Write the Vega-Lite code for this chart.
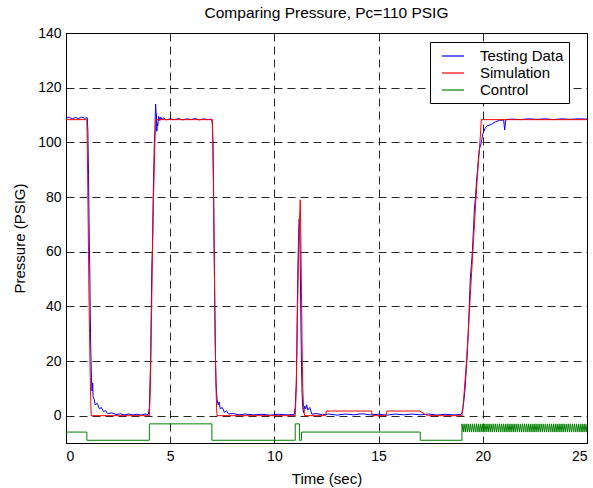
{
  "$schema": "https://vega.github.io/schema/vega-lite/v6.json",
  "autosize": {"type": "none"},
  "width": 521,
  "height": 410,
  "padding": {"left": 66, "top": 33, "right": 6, "bottom": 45},
  "background": "white",
  "title": {"text": "Comparing Pressure, Pc=110 PSIG", "fontSize": 15.5, "fontWeight": "normal", "font": "Liberation Sans", "color": "#000", "offset": 5},
  "config": {
    "font": "Liberation Sans",
    "view": {"stroke": "#000", "strokeWidth": 1},
    "axis": {
      "labelFontSize": 14, "titleFontSize": 15, "titleFontWeight": "normal",
      "labelColor": "#000", "titleColor": "#000",
      "ticks": false, "domainColor": "#000",
      "grid": true, "gridColor": "#000", "gridDash": [8, 5], "gridOpacity": 0.85, "gridWidth": 1
    },
    "legend": {
      "orient": "none", "legendX": 364, "legendY": 9,
      "strokeColor": "#000", "fillColor": "white", "padding": 5,
      "symbolType": "M-0.25,0H2.5", "symbolSize": 256, "symbolStrokeWidth": 1.2,
      "labelFontSize": 15, "labelColor": "#000", "labelOffset": 27, "rowPadding": -2,
      "labelExpr": "datum.label + '\u00a0\u00a0\u00a0'",
      "title": null
    }
  },
  "datasets": {
    "pts": [
      {"t":0,"p":108.8,"s":"Testing Data"},{"t":0.15,"p":109.2,"s":"Testing Data"},{"t":0.3,"p":108.6,"s":"Testing Data"},{"t":0.45,"p":109.1,"s":"Testing Data"},{"t":0.6,"p":108.7,"s":"Testing Data"},{"t":0.75,"p":109.2,"s":"Testing Data"},{"t":0.9,"p":108.8,"s":"Testing Data"},{"t":1.02,"p":109,"s":"Testing Data"},{"t":1.05,"p":104,"s":"Testing Data"},{"t":1.08,"p":88,"s":"Testing Data"},{"t":1.1,"p":75,"s":"Testing Data"},{"t":1.12,"p":62,"s":"Testing Data"},{"t":1.14,"p":55,"s":"Testing Data"},{"t":1.16,"p":40,"s":"Testing Data"},{"t":1.18,"p":28,"s":"Testing Data"},{"t":1.2,"p":20,"s":"Testing Data"},{"t":1.22,"p":14,"s":"Testing Data"},{"t":1.25,"p":9,"s":"Testing Data"},{"t":1.28,"p":12,"s":"Testing Data"},{"t":1.3,"p":7,"s":"Testing Data"},{"t":1.35,"p":6,"s":"Testing Data"},{"t":1.4,"p":4,"s":"Testing Data"},{"t":1.5,"p":4.5,"s":"Testing Data"},{"t":1.6,"p":2.5,"s":"Testing Data"},{"t":1.7,"p":3,"s":"Testing Data"},{"t":1.8,"p":1.5,"s":"Testing Data"},{"t":1.9,"p":1.8,"s":"Testing Data"},{"t":2.0,"p":0.8,"s":"Testing Data"},{"t":2.2,"p":1.0,"s":"Testing Data"},{"t":2.4,"p":0.4,"s":"Testing Data"},{"t":2.6,"p":0.7,"s":"Testing Data"},{"t":2.8,"p":0.3,"s":"Testing Data"},{"t":3.0,"p":0.6,"s":"Testing Data"},{"t":3.2,"p":0.3,"s":"Testing Data"},{"t":3.4,"p":0.5,"s":"Testing Data"},{"t":3.6,"p":0.2,"s":"Testing Data"},{"t":3.8,"p":0.6,"s":"Testing Data"},{"t":3.95,"p":0.4,"s":"Testing Data"},{"t":4.0,"p":3,"s":"Testing Data"},{"t":4.03,"p":12,"s":"Testing Data"},{"t":4.06,"p":20,"s":"Testing Data"},{"t":4.09,"p":38,"s":"Testing Data"},{"t":4.12,"p":55,"s":"Testing Data"},{"t":4.15,"p":62,"s":"Testing Data"},{"t":4.18,"p":78,"s":"Testing Data"},{"t":4.21,"p":90,"s":"Testing Data"},{"t":4.24,"p":100,"s":"Testing Data"},{"t":4.27,"p":105,"s":"Testing Data"},{"t":4.3,"p":114,"s":"Testing Data"},{"t":4.32,"p":111,"s":"Testing Data"},{"t":4.34,"p":110,"s":"Testing Data"},{"t":4.36,"p":104,"s":"Testing Data"},{"t":4.38,"p":107,"s":"Testing Data"},{"t":4.4,"p":106,"s":"Testing Data"},{"t":4.45,"p":109.5,"s":"Testing Data"},{"t":4.5,"p":108,"s":"Testing Data"},{"t":4.55,"p":109.2,"s":"Testing Data"},{"t":4.6,"p":108.4,"s":"Testing Data"},{"t":4.7,"p":108.9,"s":"Testing Data"},{"t":4.8,"p":108.2,"s":"Testing Data"},{"t":5.0,"p":108.6,"s":"Testing Data"},{"t":5.2,"p":108.3,"s":"Testing Data"},{"t":5.4,"p":108.7,"s":"Testing Data"},{"t":5.6,"p":108.2,"s":"Testing Data"},{"t":5.8,"p":108.6,"s":"Testing Data"},{"t":6.0,"p":108.3,"s":"Testing Data"},{"t":6.2,"p":108.7,"s":"Testing Data"},{"t":6.4,"p":108.2,"s":"Testing Data"},{"t":6.6,"p":108.6,"s":"Testing Data"},{"t":6.8,"p":108.3,"s":"Testing Data"},{"t":6.98,"p":108.5,"s":"Testing Data"},{"t":7.02,"p":107,"s":"Testing Data"},{"t":7.05,"p":100,"s":"Testing Data"},{"t":7.08,"p":85,"s":"Testing Data"},{"t":7.1,"p":68,"s":"Testing Data"},{"t":7.12,"p":55,"s":"Testing Data"},{"t":7.14,"p":40,"s":"Testing Data"},{"t":7.16,"p":28,"s":"Testing Data"},{"t":7.18,"p":18,"s":"Testing Data"},{"t":7.2,"p":12,"s":"Testing Data"},{"t":7.22,"p":9,"s":"Testing Data"},{"t":7.25,"p":6,"s":"Testing Data"},{"t":7.3,"p":4,"s":"Testing Data"},{"t":7.35,"p":5,"s":"Testing Data"},{"t":7.4,"p":2.5,"s":"Testing Data"},{"t":7.5,"p":3,"s":"Testing Data"},{"t":7.6,"p":1.2,"s":"Testing Data"},{"t":7.7,"p":1.8,"s":"Testing Data"},{"t":7.8,"p":0.6,"s":"Testing Data"},{"t":8.0,"p":0.8,"s":"Testing Data"},{"t":8.3,"p":0.3,"s":"Testing Data"},{"t":8.6,"p":0.6,"s":"Testing Data"},{"t":9.0,"p":0.3,"s":"Testing Data"},{"t":9.4,"p":0.5,"s":"Testing Data"},{"t":9.8,"p":0.2,"s":"Testing Data"},{"t":10.2,"p":0.5,"s":"Testing Data"},{"t":10.6,"p":0.3,"s":"Testing Data"},{"t":10.95,"p":0.4,"s":"Testing Data"},{"t":11.0,"p":3,"s":"Testing Data"},{"t":11.05,"p":12,"s":"Testing Data"},{"t":11.08,"p":25,"s":"Testing Data"},{"t":11.1,"p":40,"s":"Testing Data"},{"t":11.13,"p":55,"s":"Testing Data"},{"t":11.16,"p":66,"s":"Testing Data"},{"t":11.19,"p":72,"s":"Testing Data"},{"t":11.22,"p":68,"s":"Testing Data"},{"t":11.24,"p":55,"s":"Testing Data"},{"t":11.26,"p":42,"s":"Testing Data"},{"t":11.28,"p":30,"s":"Testing Data"},{"t":11.3,"p":18,"s":"Testing Data"},{"t":11.33,"p":8,"s":"Testing Data"},{"t":11.36,"p":3,"s":"Testing Data"},{"t":11.4,"p":1,"s":"Testing Data"},{"t":11.45,"p":3.5,"s":"Testing Data"},{"t":11.5,"p":2.5,"s":"Testing Data"},{"t":11.55,"p":4,"s":"Testing Data"},{"t":11.6,"p":2,"s":"Testing Data"},{"t":11.7,"p":3,"s":"Testing Data"},{"t":11.8,"p":0.5,"s":"Testing Data"},{"t":12.0,"p":0.8,"s":"Testing Data"},{"t":12.3,"p":0.3,"s":"Testing Data"},{"t":12.6,"p":0.6,"s":"Testing Data"},{"t":13.0,"p":0.2,"s":"Testing Data"},{"t":13.4,"p":0.6,"s":"Testing Data"},{"t":13.8,"p":0.3,"s":"Testing Data"},{"t":14.2,"p":0.7,"s":"Testing Data"},{"t":14.6,"p":0.3,"s":"Testing Data"},{"t":15.0,"p":0.5,"s":"Testing Data"},{"t":15.4,"p":0.2,"s":"Testing Data"},{"t":15.8,"p":0.6,"s":"Testing Data"},{"t":16.2,"p":0.3,"s":"Testing Data"},{"t":16.6,"p":0.6,"s":"Testing Data"},{"t":17.0,"p":0.3,"s":"Testing Data"},{"t":17.4,"p":0.6,"s":"Testing Data"},{"t":17.8,"p":0.2,"s":"Testing Data"},{"t":18.2,"p":0.5,"s":"Testing Data"},{"t":18.6,"p":0.3,"s":"Testing Data"},{"t":18.95,"p":0.4,"s":"Testing Data"},{"t":19.0,"p":1,"s":"Testing Data"},{"t":19.05,"p":3,"s":"Testing Data"},{"t":19.1,"p":6,"s":"Testing Data"},{"t":19.15,"p":10,"s":"Testing Data"},{"t":19.2,"p":16,"s":"Testing Data"},{"t":19.25,"p":22,"s":"Testing Data"},{"t":19.3,"p":30,"s":"Testing Data"},{"t":19.35,"p":40,"s":"Testing Data"},{"t":19.4,"p":50,"s":"Testing Data"},{"t":19.45,"p":55,"s":"Testing Data"},{"t":19.5,"p":60,"s":"Testing Data"},{"t":19.55,"p":68,"s":"Testing Data"},{"t":19.6,"p":76,"s":"Testing Data"},{"t":19.65,"p":80,"s":"Testing Data"},{"t":19.7,"p":86,"s":"Testing Data"},{"t":19.75,"p":90,"s":"Testing Data"},{"t":19.8,"p":95,"s":"Testing Data"},{"t":19.85,"p":98,"s":"Testing Data"},{"t":19.9,"p":99,"s":"Testing Data"},{"t":19.95,"p":101,"s":"Testing Data"},{"t":20.0,"p":103,"s":"Testing Data"},{"t":20.1,"p":105,"s":"Testing Data"},{"t":20.2,"p":106,"s":"Testing Data"},{"t":20.4,"p":106.5,"s":"Testing Data"},{"t":20.6,"p":107.5,"s":"Testing Data"},{"t":20.8,"p":108,"s":"Testing Data"},{"t":21.0,"p":108.2,"s":"Testing Data"},{"t":21.05,"p":104.5,"s":"Testing Data"},{"t":21.1,"p":108.3,"s":"Testing Data"},{"t":21.4,"p":108.5,"s":"Testing Data"},{"t":21.8,"p":108.3,"s":"Testing Data"},{"t":22.2,"p":108.6,"s":"Testing Data"},{"t":22.6,"p":108.4,"s":"Testing Data"},{"t":23.0,"p":108.6,"s":"Testing Data"},{"t":23.4,"p":108.3,"s":"Testing Data"},{"t":23.8,"p":108.6,"s":"Testing Data"},{"t":24.2,"p":108.4,"s":"Testing Data"},{"t":24.6,"p":108.6,"s":"Testing Data"},{"t":25.0,"p":108.5,"s":"Testing Data"},

      {"t":0,"p":108.3,"s":"Simulation"},{"t":1.0,"p":108.3,"s":"Simulation"},{"t":1.02,"p":100,"s":"Simulation"},{"t":1.05,"p":80,"s":"Simulation"},{"t":1.08,"p":60,"s":"Simulation"},{"t":1.1,"p":45,"s":"Simulation"},{"t":1.13,"p":30,"s":"Simulation"},{"t":1.16,"p":15,"s":"Simulation"},{"t":1.19,"p":5,"s":"Simulation"},{"t":1.21,"p":0,"s":"Simulation"},{"t":4.0,"p":0,"s":"Simulation"},{"t":4.04,"p":8,"s":"Simulation"},{"t":4.08,"p":25,"s":"Simulation"},{"t":4.12,"p":45,"s":"Simulation"},{"t":4.15,"p":60,"s":"Simulation"},{"t":4.2,"p":80,"s":"Simulation"},{"t":4.25,"p":95,"s":"Simulation"},{"t":4.28,"p":104,"s":"Simulation"},{"t":4.31,"p":108.3,"s":"Simulation"},{"t":7.02,"p":108.3,"s":"Simulation"},{"t":7.05,"p":98,"s":"Simulation"},{"t":7.08,"p":80,"s":"Simulation"},{"t":7.11,"p":60,"s":"Simulation"},{"t":7.14,"p":40,"s":"Simulation"},{"t":7.17,"p":22,"s":"Simulation"},{"t":7.2,"p":10,"s":"Simulation"},{"t":7.23,"p":2,"s":"Simulation"},{"t":7.25,"p":0,"s":"Simulation"},{"t":11.0,"p":0,"s":"Simulation"},{"t":11.05,"p":10,"s":"Simulation"},{"t":11.1,"p":35,"s":"Simulation"},{"t":11.15,"p":55,"s":"Simulation"},{"t":11.2,"p":70,"s":"Simulation"},{"t":11.24,"p":79,"s":"Simulation"},{"t":11.27,"p":65,"s":"Simulation"},{"t":11.3,"p":45,"s":"Simulation"},{"t":11.33,"p":25,"s":"Simulation"},{"t":11.36,"p":10,"s":"Simulation"},{"t":11.4,"p":3,"s":"Simulation"},{"t":11.45,"p":0,"s":"Simulation"},{"t":12.45,"p":0,"s":"Simulation"},{"t":12.5,"p":1.7,"s":"Simulation"},{"t":14.66,"p":1.7,"s":"Simulation"},{"t":14.7,"p":0,"s":"Simulation"},{"t":15.35,"p":0,"s":"Simulation"},{"t":15.4,"p":1.7,"s":"Simulation"},{"t":16.97,"p":1.7,"s":"Simulation"},{"t":17.34,"p":0,"s":"Simulation"},{"t":19.0,"p":0,"s":"Simulation"},{"t":19.05,"p":3,"s":"Simulation"},{"t":19.1,"p":8,"s":"Simulation"},{"t":19.2,"p":18,"s":"Simulation"},{"t":19.3,"p":30,"s":"Simulation"},{"t":19.4,"p":44,"s":"Simulation"},{"t":19.5,"p":57,"s":"Simulation"},{"t":19.6,"p":70,"s":"Simulation"},{"t":19.7,"p":83,"s":"Simulation"},{"t":19.8,"p":94,"s":"Simulation"},{"t":19.87,"p":101,"s":"Simulation"},{"t":19.9,"p":104.5,"s":"Simulation"},{"t":19.93,"p":108.3,"s":"Simulation"},{"t":25.0,"p":108.3,"s":"Simulation"},

      {"t":0,"p":-6,"s":"Control"},{"t":1.0,"p":-6,"s":"Control"},{"t":1.0,"p":-9,"s":"Control"},{"t":4.0,"p":-9,"s":"Control"},{"t":4.0,"p":-3,"s":"Control"},{"t":7.0,"p":-3,"s":"Control"},{"t":7.0,"p":-9,"s":"Control"},{"t":11.0,"p":-9,"s":"Control"},{"t":11.0,"p":-3,"s":"Control"},{"t":11.2,"p":-3,"s":"Control"},{"t":11.2,"p":-9,"s":"Control"},{"t":11.3,"p":-9,"s":"Control"},{"t":11.3,"p":-6,"s":"Control"},{"t":17.0,"p":-6,"s":"Control"},{"t":17.0,"p":-9,"s":"Control"},{"t":19.0,"p":-9,"s":"Control"},
      {"t":19.0,"p":-3,"s":"Control"},{"t":19.06,"p":-6,"s":"Control"},{"t":19.1,"p":-3,"s":"Control"},{"t":19.16,"p":-6,"s":"Control"},{"t":19.2,"p":-3,"s":"Control"},{"t":19.26,"p":-6,"s":"Control"},{"t":19.3,"p":-3,"s":"Control"},{"t":19.36,"p":-6,"s":"Control"},{"t":19.4,"p":-3,"s":"Control"},{"t":19.46,"p":-6,"s":"Control"},{"t":19.5,"p":-3,"s":"Control"},{"t":19.56,"p":-6,"s":"Control"},{"t":19.6,"p":-3,"s":"Control"},{"t":19.66,"p":-6,"s":"Control"},{"t":19.7,"p":-3,"s":"Control"},{"t":19.76,"p":-6,"s":"Control"},{"t":19.8,"p":-3,"s":"Control"},{"t":19.86,"p":-6,"s":"Control"},{"t":19.9,"p":-3,"s":"Control"},{"t":19.96,"p":-6,"s":"Control"},
      {"t":20.0,"p":-3,"s":"Control"},{"t":20.06,"p":-6,"s":"Control"},{"t":20.1,"p":-3,"s":"Control"},{"t":20.16,"p":-6,"s":"Control"},{"t":20.2,"p":-3,"s":"Control"},{"t":20.26,"p":-6,"s":"Control"},{"t":20.3,"p":-3,"s":"Control"},{"t":20.36,"p":-6,"s":"Control"},{"t":20.4,"p":-3,"s":"Control"},{"t":20.46,"p":-6,"s":"Control"},{"t":20.5,"p":-3,"s":"Control"},{"t":20.56,"p":-6,"s":"Control"},{"t":20.6,"p":-3,"s":"Control"},{"t":20.66,"p":-6,"s":"Control"},{"t":20.7,"p":-3,"s":"Control"},{"t":20.76,"p":-6,"s":"Control"},{"t":20.8,"p":-3,"s":"Control"},{"t":20.86,"p":-6,"s":"Control"},{"t":20.9,"p":-3,"s":"Control"},{"t":20.96,"p":-6,"s":"Control"},
      {"t":21.0,"p":-3,"s":"Control"},{"t":21.06,"p":-6,"s":"Control"},{"t":21.1,"p":-3,"s":"Control"},{"t":21.16,"p":-6,"s":"Control"},{"t":21.2,"p":-3,"s":"Control"},{"t":21.26,"p":-6,"s":"Control"},{"t":21.3,"p":-3,"s":"Control"},{"t":21.36,"p":-6,"s":"Control"},{"t":21.4,"p":-3,"s":"Control"},{"t":21.46,"p":-6,"s":"Control"},{"t":21.5,"p":-3,"s":"Control"},{"t":21.56,"p":-6,"s":"Control"},{"t":21.6,"p":-3,"s":"Control"},{"t":21.66,"p":-6,"s":"Control"},{"t":21.7,"p":-3,"s":"Control"},{"t":21.76,"p":-6,"s":"Control"},{"t":21.8,"p":-3,"s":"Control"},{"t":21.86,"p":-6,"s":"Control"},{"t":21.9,"p":-3,"s":"Control"},{"t":21.96,"p":-6,"s":"Control"},
      {"t":22.0,"p":-3,"s":"Control"},{"t":22.06,"p":-6,"s":"Control"},{"t":22.1,"p":-3,"s":"Control"},{"t":22.16,"p":-6,"s":"Control"},{"t":22.2,"p":-3,"s":"Control"},{"t":22.26,"p":-6,"s":"Control"},{"t":22.3,"p":-3,"s":"Control"},{"t":22.36,"p":-6,"s":"Control"},{"t":22.4,"p":-3,"s":"Control"},{"t":22.46,"p":-6,"s":"Control"},{"t":22.5,"p":-3,"s":"Control"},{"t":22.56,"p":-6,"s":"Control"},{"t":22.6,"p":-3,"s":"Control"},{"t":22.66,"p":-6,"s":"Control"},{"t":22.7,"p":-3,"s":"Control"},{"t":22.76,"p":-6,"s":"Control"},{"t":22.8,"p":-3,"s":"Control"},{"t":22.86,"p":-6,"s":"Control"},{"t":22.9,"p":-3,"s":"Control"},{"t":22.96,"p":-6,"s":"Control"},
      {"t":23.0,"p":-3,"s":"Control"},{"t":23.06,"p":-6,"s":"Control"},{"t":23.1,"p":-3,"s":"Control"},{"t":23.16,"p":-6,"s":"Control"},{"t":23.2,"p":-3,"s":"Control"},{"t":23.26,"p":-6,"s":"Control"},{"t":23.3,"p":-3,"s":"Control"},{"t":23.36,"p":-6,"s":"Control"},{"t":23.4,"p":-3,"s":"Control"},{"t":23.46,"p":-6,"s":"Control"},{"t":23.5,"p":-3,"s":"Control"},{"t":23.56,"p":-6,"s":"Control"},{"t":23.6,"p":-3,"s":"Control"},{"t":23.66,"p":-6,"s":"Control"},{"t":23.7,"p":-3,"s":"Control"},{"t":23.76,"p":-6,"s":"Control"},{"t":23.8,"p":-3,"s":"Control"},{"t":23.86,"p":-6,"s":"Control"},{"t":23.9,"p":-3,"s":"Control"},{"t":23.96,"p":-6,"s":"Control"},
      {"t":24.0,"p":-3,"s":"Control"},{"t":24.06,"p":-6,"s":"Control"},{"t":24.1,"p":-3,"s":"Control"},{"t":24.16,"p":-6,"s":"Control"},{"t":24.2,"p":-3,"s":"Control"},{"t":24.26,"p":-6,"s":"Control"},{"t":24.3,"p":-3,"s":"Control"},{"t":24.36,"p":-6,"s":"Control"},{"t":24.4,"p":-3,"s":"Control"},{"t":24.46,"p":-6,"s":"Control"},{"t":24.5,"p":-3,"s":"Control"},{"t":24.56,"p":-6,"s":"Control"},{"t":24.6,"p":-3,"s":"Control"},{"t":24.66,"p":-6,"s":"Control"},{"t":24.7,"p":-3,"s":"Control"},{"t":24.76,"p":-6,"s":"Control"},{"t":24.8,"p":-3,"s":"Control"},{"t":24.86,"p":-6,"s":"Control"},{"t":24.9,"p":-3,"s":"Control"},{"t":24.96,"p":-6,"s":"Control"},{"t":25.0,"p":-3,"s":"Control"}
    ]
  },
  "data": {"name": "pts"},
  "mark": {"type": "line", "strokeWidth": 1, "clip": true},
  "encoding": {
    "x": {"field": "t", "type": "quantitative", "title": "Time (sec)",
      "scale": {"domain": [0, 25], "nice": false},
      "axis": {"values": [0, 5, 10, 15, 20, 25], "labelPadding": 6, "titlePadding": 8}},
    "y": {"field": "p", "type": "quantitative", "title": "Pressure (PSIG)",
      "scale": {"domain": [-10, 140], "nice": false, "zero": false},
      "axis": {"values": [0, 20, 40, 60, 80, 100, 120, 140], "labelPadding": 5, "titlePadding": 10}},
    "color": {"field": "s", "type": "nominal",
      "scale": {"domain": ["Testing Data", "Simulation", "Control"], "range": ["#0000ff", "#ff0000", "#008000"]}}
  }
}
